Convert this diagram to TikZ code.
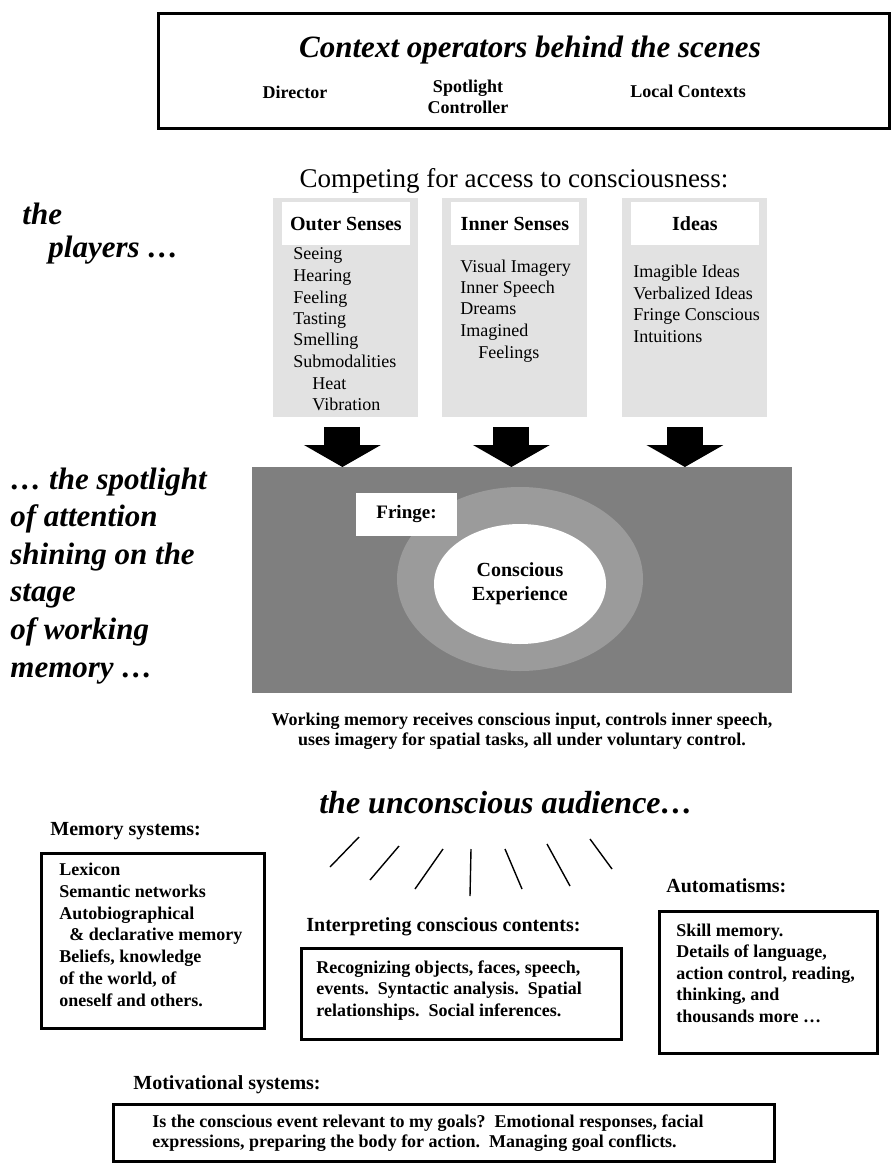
\documentclass[tikz,border=0pt]{standalone}
\usepackage{fontspec}
\setmainfont{Liberation Serif}
\usepackage{tikz}
\usetikzlibrary{positioning, shapes.geometric, arrows.meta}

\definecolor{stagegray}{HTML}{7F7F7F}
\definecolor{fringegray}{HTML}{9B9B9B}
\definecolor{colgray}{HTML}{E2E2E2}

\begin{document}
\begin{tikzpicture}[x=0.5pt, y=-0.5pt,
  framebox/.style={draw, line width=1.4pt, inner sep=0, anchor=north west},
  boxhead/.style={font=\fontsize{10}{12}\selectfont\bfseries, inner sep=0, anchor=base west},
  body/.style={font=\fontsize{9}{10.8}\selectfont\bfseries, align=left, inner sep=0, anchor=base west},
  items/.style={font=\fontsize{9}{10.75}\selectfont, align=left, inner sep=0, anchor=base west},
  sensecol/.style={fill=colgray, minimum width=72.5pt, minimum height=109.5pt, inner sep=0, anchor=north west},
  sensehead/.style={fill=white, minimum width=64pt, minimum height=21.5pt, inner sep=0, font=\fontsize{10}{12}\selectfont\bfseries},
  sidetext/.style={font=\fontsize{15.5}{18.8}\selectfont\bfseries\itshape, align=left, inner sep=0, anchor=base west},
  bigarrow/.style={line width=18pt, -{Triangle[width=38pt,length=11pt]}, shorten <=4.5pt},
]
\useasboundingbox (0,0) rectangle (892,1170);

% operators behind the scenes
\node[framebox, minimum width=365.5pt, minimum height=57.5pt] (ops) at (157,12) {};
\node[font=\fontsize{15.5}{18}\selectfont\bfseries\itshape] (opstitle) at (530,50) {Context operators behind the scenes};
\node[font=\fontsize{9}{10.5}\selectfont\bfseries] (director) at (295,92) {Director};
\node[font=\fontsize{9}{10.5}\selectfont\bfseries, align=center] (spot) at (468,97) {Spotlight\\Controller};
\node[font=\fontsize{9}{10.5}\selectfont\bfseries] (local) at (688,91) {Local Contexts};

% the players
\node[font=\fontsize{13.5}{15}\selectfont] (compete) at (514,181) {Competing for access to consciousness:};
\node[sidetext, font=\fontsize{15.5}{16.5}\selectfont\bfseries\itshape] (players) at (22,258) {the\\\hspace*{13pt}players …};

\node[sensecol] (outer) at (273,198) {};
\node[sensecol] (inner) at (442,198) {};
\node[sensecol] (ideas) at (622,198) {};

\node[sensehead, below=2pt of outer.north] (outerhead) {Outer Senses};
\node[sensehead, below=2pt of inner.north] (innerhead) {Inner Senses};
\node[sensehead, below=2pt of ideas.north] (ideashead) {Ideas};

% base anchor sits on the last line
\node[items] (outerlist) at (293,410.5) {Seeing\\Hearing\\Feeling\\Tasting\\Smelling\\Submodalities\\\hspace*{9.5pt}Heat\\\hspace*{9.5pt}Vibration};
\node[items] (innerlist) at (460,358) {Visual Imagery\\Inner Speech\\Dreams\\Imagined\\\hspace*{9pt}Feelings};
\node[items] (ideaslist) at (633,342.5) {Imagible Ideas\\Verbalized Ideas\\Fringe Conscious\\Intuitions};

% the stage
\node[fill=stagegray, minimum width=270pt, minimum height=113pt, inner sep=0, anchor=north west] (stage) at (252,467) {};
\node[ellipse, fill=fringegray, minimum width=123pt, minimum height=92pt, inner sep=0] (fringe) at (520,579) {};
\node[ellipse, fill=white, minimum width=86pt, minimum height=60pt, inner sep=0, align=center, font=\fontsize{10}{12}\selectfont\bfseries] (conscious) at (520,584) {Conscious\\Experience};
\node[fill=white, minimum width=50.5pt, minimum height=21.5pt, inner sep=0, font=\fontsize{9.5}{11}\selectfont\bfseries] (fringelabel) at (406.5,514.5) {Fringe:};

\draw[bigarrow] ([xshift=-1.75pt]outer.south) -- ([xshift=-1.75pt]outer.south |- stage.north);
\draw[bigarrow] ([xshift=-1.75pt]inner.south) -- ([xshift=-1.75pt]inner.south |- stage.north);
\draw[bigarrow] ([xshift=-5pt]ideas.south) -- ([xshift=-5pt]ideas.south |- stage.north);

\node[sidetext] (spotlight) at (10,677) {… the spotlight\\of attention\\shining on the\\stage\\of working\\memory …};

\node[font=\fontsize{9}{10}\selectfont\bfseries, align=center] (wmnote) at (522,731) {Working memory receives conscious input, controls inner speech,\\uses imagery for spatial tasks, all under voluntary control.};

% the audience
\node[font=\fontsize{16}{18}\selectfont\bfseries\itshape] (audience) at (506,803) {the unconscious audience…};
\foreach \xa/\ya/\xb/\yb in {359/837/330/867, 399/846/370/880, 443/849/415/889, 471/849/470/896,
                             505/849/522/889, 547/844/570/886, 590/839/612/869}
  \draw[line width=0.7pt] (\xa,\ya) -- (\xb,\yb);

\node[boxhead] (memlabel) at (50,835) {Memory systems:};
\node[framebox, minimum width=111.5pt, minimum height=87.5pt] (membox) at (40,852) {};
\node[body, font=\fontsize{9}{10.85}\selectfont\bfseries] (memtext) at (59,1006) {Lexicon\\Semantic networks\\Autobiographical\\\hspace*{5pt}\& declarative memory\\Beliefs, knowledge\\of the world, of\\oneself and others.};

\node[boxhead] (interplabel) at (306,931) {Interpreting conscious contents:};
\node[framebox, minimum width=160pt, minimum height=45.5pt] (interpbox) at (300,947) {};
\node[body, font=\fontsize{9}{10.75}\selectfont\bfseries] (interptext) at (316,1016) {Recognizing objects, faces, speech,\\events.\ \ Syntactic analysis.\ \ Spatial\\relationships.\ \ Social inferences.};

\node[boxhead] (autolabel) at (666,892) {Automatisms:};
\node[framebox, minimum width=109pt, minimum height=71pt] (autobox) at (658,910) {};
\node[body, font=\fontsize{9}{10.75}\selectfont\bfseries] (autotext) at (676,1022) {Skill memory.\\Details of language,\\action control, reading,\\thinking, and\\thousands more …};

\node[boxhead] (motivlabel) at (133,1089) {Motivational systems:};
\node[framebox, minimum width=330.5pt, minimum height=28.5pt] (motivbox) at (112,1103) {};
\node[body, font=\fontsize{9}{10}\selectfont\bfseries] (motivtext) at (152,1147) {Is the conscious event relevant to my goals?\ \ Emotional responses, facial\\expressions, preparing the body for action.\ \ Managing goal conflicts.};

\end{tikzpicture}
\end{document}
